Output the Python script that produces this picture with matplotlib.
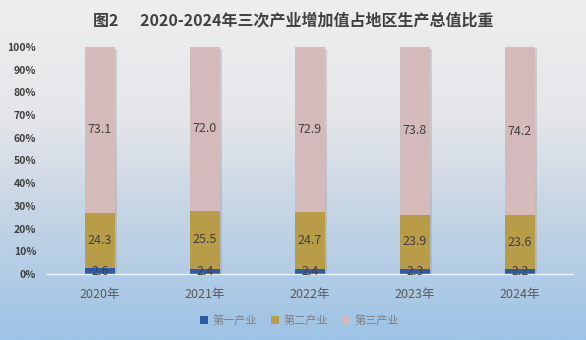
import matplotlib.pyplot as plt
import matplotlib.patheffects as pe
import numpy as np
from matplotlib.colors import LinearSegmentedColormap
from matplotlib.patches import Patch

plt.rcParams['font.family'] = ['Noto Sans CJK SC', 'DejaVu Sans']

# 数据
years = ['2020年', '2021年', '2022年', '2023年', '2024年']
primary = [2.6, 2.4, 2.4, 2.3, 2.2]
secondary = [24.3, 25.5, 24.7, 23.9, 23.6]
tertiary = [73.1, 72.0, 72.9, 73.8, 74.2]
series_names = ['第一产业', '第二产业', '第三产业']
colors = ['#2f5ba6', '#b89c48', '#d5babb']

fig = plt.figure(figsize=(5.86, 3.40), dpi=100)

# 背景渐变（上灰下蓝）
bg = fig.add_axes([0, 0, 1, 1], zorder=-10)
cmap = LinearSegmentedColormap.from_list(
    'bg', [(0, '#eeeeef'), (0.35, '#e4e6e9'), (0.6, '#c8d6e4'), (1, '#9dc3e6')])
grad = np.linspace(0, 1, 256).reshape(-1, 1)
bg.imshow(grad, aspect='auto', cmap=cmap, extent=[0, 1, 0, 1])
bg.axis('off')

ax = fig.add_axes([0.081, 0.194, 0.896, 0.668])
ax.patch.set_alpha(0)

x = np.arange(len(years))
w = 0.29
totals = np.array(primary) + np.array(secondary) + np.array(tertiary)
# 整根柱子的阴影
ax.bar(x, totals, w, color='none', zorder=1,
       path_effects=[pe.SimplePatchShadow(offset=(1.5, -1.2), shadow_rgbFace='#8a8a8a', alpha=0.3)])

bottom = np.zeros(len(years))
for vals, name, c in zip([primary, secondary, tertiary], series_names, colors):
    ax.bar(x, vals, w, bottom=bottom, color=c, zorder=2)
    for xi, v, b0 in zip(x, vals, bottom):
        ax.text(xi, b0 + v / 2, f'{v:.1f}', ha='center', va='center',
                fontsize=9, color='#404040', zorder=4)
    bottom += np.array(vals)

ax.set_xlim(-0.5, len(years) - 0.5)
ax.set_ylim(0, 100)
ax.set_yticks(range(0, 101, 10))
ax.set_yticklabels([f'{v}%' for v in range(0, 101, 10)], fontsize=7.5,
                   color='#404040', fontweight='bold')
ax.set_xticks(x)
ax.set_xticklabels(years, fontsize=9, color='#595959')
ax.tick_params(length=0, pad=10)
ax.tick_params(axis='y', pad=8)
for s in ['top', 'right', 'left']:
    ax.spines[s].set_visible(False)
ax.spines['bottom'].set_color('#f2f2f2')
ax.spines['bottom'].set_linewidth(1)

fig.text(0.5, 0.94, '图2      2020-2024年三次产业增加值占地区生产总值比重',
         ha='center', va='center', fontsize=11.5, fontweight='bold', color='#404040')

handles = [Patch(facecolor=c, label=n) for c, n in zip(colors, series_names)]
ax.legend(handles=handles, loc='upper center', bbox_to_anchor=(0.48, -0.135), ncol=3,
          frameon=False, fontsize=8, labelcolor='#7f7f7f', handlelength=0.7,
          handleheight=0.7, handletextpad=0.4, columnspacing=1.3)

fig.savefig('out.png', dpi=100)
